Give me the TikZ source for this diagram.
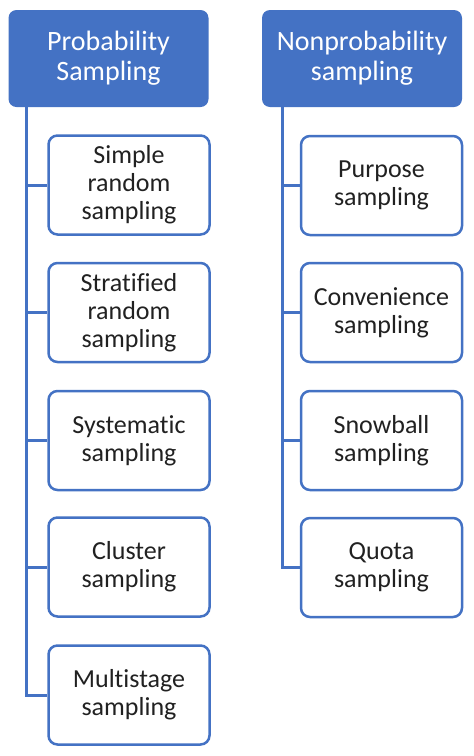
\documentclass[tikz,border=0pt]{standalone}
\usepackage{fontspec}
\setmainfont{Carlito}[Ligatures=NoCommon]
\usetikzlibrary{positioning}
\definecolor{sampblue}{RGB}{68,114,196}
\definecolor{sampink}{RGB}{33,33,33}

\tikzset{
  head/.style={fill=sampblue, rounded corners=8pt, text=white, align=center,
    minimum width=200pt, minimum height=97pt, inner sep=0pt,
    font=\fontsize{28}{30}\selectfont},
  kind/.style={draw=sampblue, line width=2.5pt, rounded corners=9pt, fill=white,
    text=sampink, align=center, minimum width=161pt, minimum height=99pt,
    inner sep=0pt, font=\fontsize{26}{28}\selectfont},
  tree/.style={draw=sampblue, line width=3pt}
}

\begin{document}
\begin{tikzpicture}[x=1pt, y=-1pt]

\useasboundingbox[fill=white] (0,0) rectangle (474,756);

% headers
\node[head] (prob) at (108.5,58.5) {Probability\\Sampling};
\node[head] (nonprob) at (362,58.5) {Nonprobability\\sampling};

% trunks start under the headers
\coordinate (ptrunk) at (prob.south -| 26,0);
\coordinate (ntrunk) at (nonprob.south -| 282,0);

% probability methods
\node[kind] (simple) at (129,185) {Simple\\random\\sampling};
\node[kind] (strat) at (129,312.5) {Stratified\\random\\sampling};
\node[kind] (syst) at (129,440.5) {Systematic\\sampling};
\node[kind] (clust) at (129,567) {Cluster\\sampling};
\node[kind] (multi) at (129,695) {Multistage\\sampling};

% nonprobability methods
\node[kind] (purp) at (381.5,185.5) {Purpose\\sampling};
\node[kind] (conv) at (381.5,312.5) {Convenience\\sampling};
\node[kind] (snow) at (381.5,440.5) {Snowball\\sampling};
\node[kind] (quota) at (381.5,567.5) {Quota\\sampling};

\draw[tree] (ptrunk) |- (simple.west);
\draw[tree] (ptrunk) |- (strat.west);
\draw[tree] (ptrunk) |- (syst.west);
\draw[tree] (ptrunk) |- (clust.west);
\draw[tree] (ptrunk) |- (multi.west);

\draw[tree] (ntrunk) |- (purp.west);
\draw[tree] (ntrunk) |- (conv.west);
\draw[tree] (ntrunk) |- (snow.west);
\draw[tree] (ntrunk) |- (quota.west);

\end{tikzpicture}
\end{document}
